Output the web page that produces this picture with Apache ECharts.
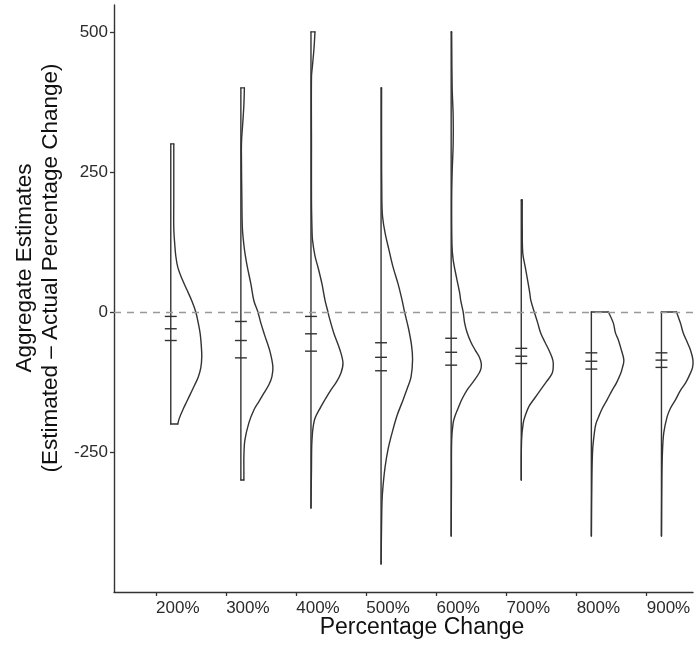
<!DOCTYPE html>
<html><head><meta charset="utf-8">
<script src="https://cdn.jsdelivr.net/npm/echarts@6/dist/echarts.min.js"></script>
<style>html,body{margin:0;padding:0;background:#fff}#c{width:697px;height:663px}</style>
</head><body><div id="c"></div>
<script>
// ---- data ----
const categories = ['200%', '300%', '400%', '500%', '600%', '700%', '800%', '900%'];
const yTickValues = [-250, 0, 250, 500];
// quartile marks (upper quartile, median, lower quartile)
const upperQuartile = [-8, -17, -8, -55, -47, -65, -73, -73];
const medianValues  = [-30, -51, -39, -81, -72, -79, -88, -86];
const lowerQuartile = [-51, -82, -70, -105, -95, -92, -102, -99];
// density profiles: [estimate, relative density]
const density200 = [[300,3],[250,3],[200,3],[150,3],[120,4],[100,5],[80,7],[60,11],[40,16],[20,21],[0,25],[-20,27.5],[-40,29.5],[-60,30.5],[-80,31],[-100,30],[-116,27.5],[-130,24],[-145,20],[-160,16],[-175,12],[-190,8.5],[-200,7]];
const density300 = [[400,3.5],[370,3],[340,2],[310,0.8],[290,0.5],[200,1],[150,1.5],[120,3],[100,4.5],[80,6.5],[50,10],[20,13],[0,17],[-20,20],[-40,23.5],[-70,29],[-98,32],[-116,31],[-130,28],[-145,23],[-160,18],[-175,13],[-198,8],[-229,4],[-259,3],[-280,3],[-300,3]];
const density400 = [[500,4],[470,3],[440,1.5],[420,0.5],[300,0.5],[200,0.5],[150,1],[129,1.5],[100,4],[80,7],[50,11],[21,14],[0,17],[-8,18],[-37,22.7],[-68,29],[-91,32],[-109,30],[-125,25.5],[-139,20],[-155,14.5],[-169,10],[-193,3.5],[-229,1],[-280,0.5],[-350,0]];
const density500 = [[400,0.5],[300,0.5],[200,0.8],[170,1.5],[141,4],[110,8],[80,12],[50,17],[21,21],[0,23.5],[-30,27.5],[-60,30.5],[-85,31.5],[-116,30],[-135,26.5],[-157,22],[-185,16],[-216,11],[-245,7],[-277,4],[-310,2],[-336,1],[-380,0.5],[-450,0]];
const density600 = [[500,0.5],[400,1],[350,2],[300,2],[250,1],[200,0.5],[120,0.8],[93,2],[60,5.5],[34,8.5],[21,9.5],[0,12],[-20,13.5],[-37,16],[-55,20],[-68,24],[-80,28],[-91,30],[-100,30],[-109,28],[-125,22],[-139,16],[-155,11],[-169,7.6],[-185,4],[-198,2],[-229,0.5],[-300,0.3],[-400,0]];
const density700 = [[200,1],[150,1],[105,1.5],[80,4],[55,6.5],[34,8.5],[21,9.5],[0,13],[-20,16.5],[-37,19.3],[-55,24],[-68,27.6],[-80,30.5],[-91,32],[-109,31],[-125,25],[-139,19.3],[-155,13],[-169,7.6],[-185,4],[-198,2],[-229,0.3],[-300,0]];
const density800 = [[0,17],[-20,22],[-37,24],[-50,27],[-68,30],[-86,32.5],[-100,31],[-109,29.5],[-127,25],[-139,21],[-157,15.7],[-172,11],[-187,7.3],[-200,4.5],[-216,3],[-246,1.3],[-300,0.5],[-400,0]];
const density900 = [[0,15],[-20,19],[-37,21.7],[-55,26],[-68,29],[-86,31.5],[-100,31],[-115,27.5],[-127,24],[-140,19],[-157,14],[-172,9],[-187,5.7],[-216,2.3],[-250,1],[-300,0.4],[-400,0]];
const densities = [density200, density300, density400, density500, density600, density700, density800, density900];

// ---- drawing ----
const FONT = 'Liberation Sans, Arial, Helvetica, sans-serif';
const nudge = 0.21;            // half-violins sit right of the category position
const densityToX = 1 / 70.1;   // relative density -> x-axis units
const INK = '#333';
const LW = 1.4;

const chart = echarts.init(document.getElementById('c'), null, {renderer: 'canvas'});
chart.setOption({
  animation: false,
  backgroundColor: '#fff',
  grid: {left: 114, right: 4, top: 5, bottom: 71, containLabel: false},
  xAxis: {
    type: 'value', min: 0.4, max: 8.66,
    splitLine: {show: false},
    axisLine: {show: true, onZero: false, lineStyle: {color: '#333', width: 1.4}},
    axisTick: {show: true, length: 4, customValues: categories.map((c, i) => i + 1), lineStyle: {color: '#333', width: 1.3}},
    axisLabel: {
      customValues: categories.map((c, i) => i + 1),
      formatter: v => categories[Math.round(v) - 1] || '',
      align: 'left', margin: 8, fontSize: 17, color: '#2b2b2b', fontFamily: FONT
    }
  },
  yAxis: {
    type: 'value', min: -500, max: 548,
    splitLine: {show: false},
    axisLine: {show: true, onZero: false, lineStyle: {color: '#333', width: 1.4}},
    axisTick: {show: true, length: 4, customValues: yTickValues, lineStyle: {color: '#333', width: 1.3}},
    axisLabel: {customValues: yTickValues, margin: 6, fontSize: 17, color: '#2b2b2b', fontFamily: FONT}
  },
  series: [{
    type: 'custom',
    data: categories.map((c, i) => [i + 1, 0]),
    renderItem: function (params, api) {
      const i = params.dataIndex;
      const prof = densities[i];
      const x0 = api.value(0) + nudge;
      const top = api.coord([x0, prof[0][0]]);
      const bot = api.coord([x0, prof[prof.length - 1][0]]);
      const curve = prof.map(p => api.coord([x0 + p[1] * densityToX, p[0]]));
      const st = {stroke: INK, lineWidth: LW, fill: 'none', lineCap: 'round', lineJoin: 'round'};
      const children = [
        {type: 'line', shape: {x1: top[0], y1: top[1], x2: bot[0], y2: bot[1]}, style: st},
        {type: 'line', shape: {x1: top[0], y1: top[1], x2: curve[0][0], y2: curve[0][1]}, style: st},
        {type: 'line', shape: {x1: bot[0], y1: bot[1], x2: curve[curve.length - 1][0], y2: curve[curve.length - 1][1]}, style: st},
        {type: 'polyline', shape: {points: curve, smooth: 0.35}, style: st}
      ];
      [upperQuartile[i], medianValues[i], lowerQuartile[i]].forEach(q => {
        const a = api.coord([x0 - 0.085, q]);
        const b = api.coord([x0 + 0.085, q]);
        children.push({type: 'line', shape: {x1: a[0], y1: a[1], x2: b[0], y2: b[1]}, style: {stroke: INK, lineWidth: LW}});
      });
      return {type: 'group', children: children};
    },
    markLine: {
      silent: true, symbol: 'none', animation: false,
      label: {show: false},
      lineStyle: {type: [7, 6], color: '#999', width: 1.3},
      data: [{yAxis: 0}]
    }
  }],
  graphic: [
    {type: 'text', x: 422, y: 628, style: {text: 'Percentage Change', font: '23px ' + FONT, fill: '#111', textAlign: 'center', textVerticalAlign: 'middle'}},
    {type: 'text', x: 25, y: 268, rotation: Math.PI / 2, style: {text: 'Aggregate Estimates', font: '22.5px ' + FONT, fill: '#111', textAlign: 'center', textVerticalAlign: 'middle'}},
    {type: 'text', x: 51, y: 268, rotation: Math.PI / 2, style: {text: '(Estimated – Actual Percentage Change)', font: '22.5px ' + FONT, fill: '#111', textAlign: 'center', textVerticalAlign: 'middle'}}
  ]
});
</script>
</body></html>
